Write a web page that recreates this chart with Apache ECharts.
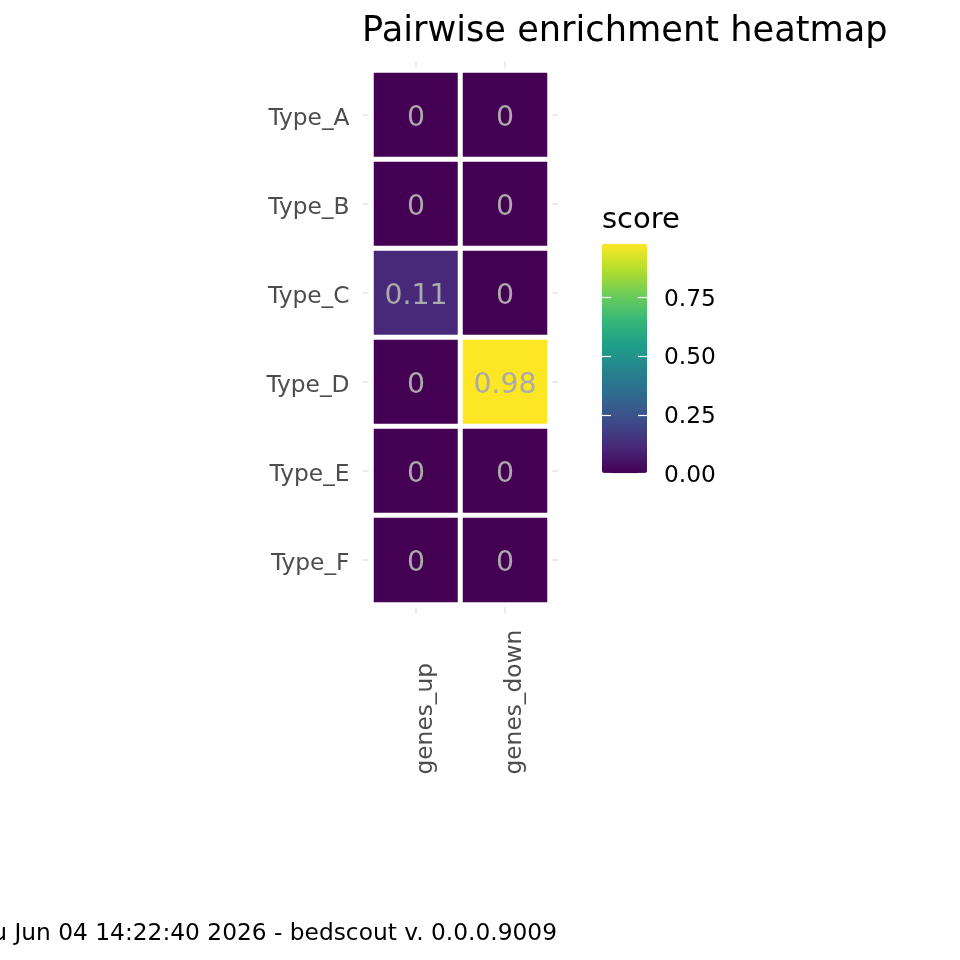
<!DOCTYPE html>
<html>
<head>
<meta charset="utf-8">
<script src="https://cdn.jsdelivr.net/npm/echarts@6/dist/echarts.min.js"></script>
<style>
  html,body{margin:0;padding:0;background:#fff;}
  #chart{width:960px;height:960px;}
</style>
</head>
<body>
<div id="chart"></div>
<script>
// data
let rows=["Type_A","Type_B","Type_C","Type_D","Type_E","Type_F"]
let cols=["genes_up","genes_down"]
let genesUp=[0,0,0.11,0,0,0]
let genesDown=[0,0,0,0.98,0,0]
let legendTicks=[0,0.25,0.5,0.75]
let scoreMax=0.98

let viridis=["#440154","#482878","#3E4A89","#31688E","#26828E","#1F9E89","#35B779","#6DCD59","#B4DE2C","#FDE725"]
let font="DejaVu Sans"

// heatmap cells [x, y, value]
let cells=[]
for(let i=0;i<rows.length;i++){
    cells.push([0,i,genesUp[i]])
    cells.push([1,i,genesDown[i]])
}

let gridLine={show:true,lineStyle:{color:"#EBEBEB",width:2}}
let hidden={show:false}

var myChart=echarts.init(document.getElementById("chart"))
var option={
    backgroundColor:"#fff",
    animation:false,
    title:[
        {
            text:"Pairwise enrichment heatmap",
            left:362,top:14,padding:0,
            textStyle:{fontFamily:font,fontSize:35.2,fontWeight:"normal",color:"#000"}
        },
        {
            text:"score",
            left:602,top:205.5,padding:0,
            textStyle:{fontFamily:font,fontSize:29,fontWeight:"normal",color:"#000"}
        },
        {
            text:"Thu Jun 04 14:22:40 2026 - bedscout v. 0.0.0.9009",
            right:403,top:922.5,padding:0,
            textStyle:{fontFamily:font,fontSize:23.3,fontWeight:"normal",color:"#000"}
        }
    ],
    grid:[
        {left:371.5,top:70.5,width:178,height:534},     // tiles
        {left:416,top:61.6,width:89,height:551.8},      // vertical grid lines
        {left:362.6,top:115,width:195.3,height:445},    // horizontal grid lines
        {left:602,top:243.8,width:45,height:229.5}      // colourbar ticks
    ],
    xAxis:[
        {
            type:"category",gridIndex:0,data:cols,
            axisLine:hidden,axisTick:hidden,splitLine:hidden,
            axisLabel:{rotate:90,align:"left",verticalAlign:"top",lineHeight:20,margin:170,color:"#4D4D4D",fontFamily:font,fontSize:23.3}
        },
        {
            type:"category",gridIndex:1,data:cols,boundaryGap:false,
            axisLine:hidden,axisTick:hidden,axisLabel:hidden,splitLine:gridLine
        },
        {type:"value",gridIndex:2,show:false},
        {type:"value",gridIndex:3,show:false}
    ],
    yAxis:[
        {
            type:"category",gridIndex:0,data:rows,inverse:true,
            axisLine:hidden,axisTick:hidden,splitLine:hidden,
            axisLabel:{margin:22,verticalAlign:"top",lineHeight:8,color:"#4D4D4D",fontFamily:font,fontSize:23.3}
        },
        {type:"value",gridIndex:1,show:false},
        {
            type:"category",gridIndex:2,data:rows,inverse:true,boundaryGap:false,
            axisLine:hidden,axisTick:hidden,axisLabel:hidden,splitLine:gridLine
        },
        {
            type:"value",gridIndex:3,position:"left",min:0,max:scoreMax,z:10,
            axisLine:hidden,splitLine:hidden,axisLabel:hidden,
            axisTick:{show:true,inside:true,length:9,customValues:legendTicks,lineStyle:{color:"#ffffff",width:1.2}}
        },
        {
            type:"value",gridIndex:3,position:"right",min:0,max:scoreMax,z:10,
            axisLine:hidden,splitLine:hidden,
            axisTick:{show:true,inside:true,length:9,customValues:legendTicks,lineStyle:{color:"#ffffff",width:1.2}},
            axisLabel:{
                show:true,margin:17,verticalAlign:"top",lineHeight:4.4,customValues:legendTicks,color:"#000",fontFamily:font,fontSize:23.3,
                formatter:function(v){return v.toFixed(2)}
            }
        }
    ],
    visualMap:{
        type:"continuous",
        min:0,max:scoreMax,
        seriesIndex:0,
        calculable:false,
        text:null,
        showLabel:false,
        left:602,top:243.8,padding:0,
        itemWidth:45,itemHeight:229.5,
        inRange:{color:viridis}
    },
    series:[{
        type:"heatmap",
        xAxisIndex:0,yAxisIndex:0,
        data:cells,
        itemStyle:{borderColor:"#ffffff",borderWidth:5},
        label:{
            show:true,color:"#AAAAAA",fontFamily:font,fontSize:28.4,offset:[0,4],
            formatter:function(p){return String(p.value[2])}
        },
        emphasis:{disabled:true}
    }]
}
myChart.setOption(option)
</script>
</body>
</html>
